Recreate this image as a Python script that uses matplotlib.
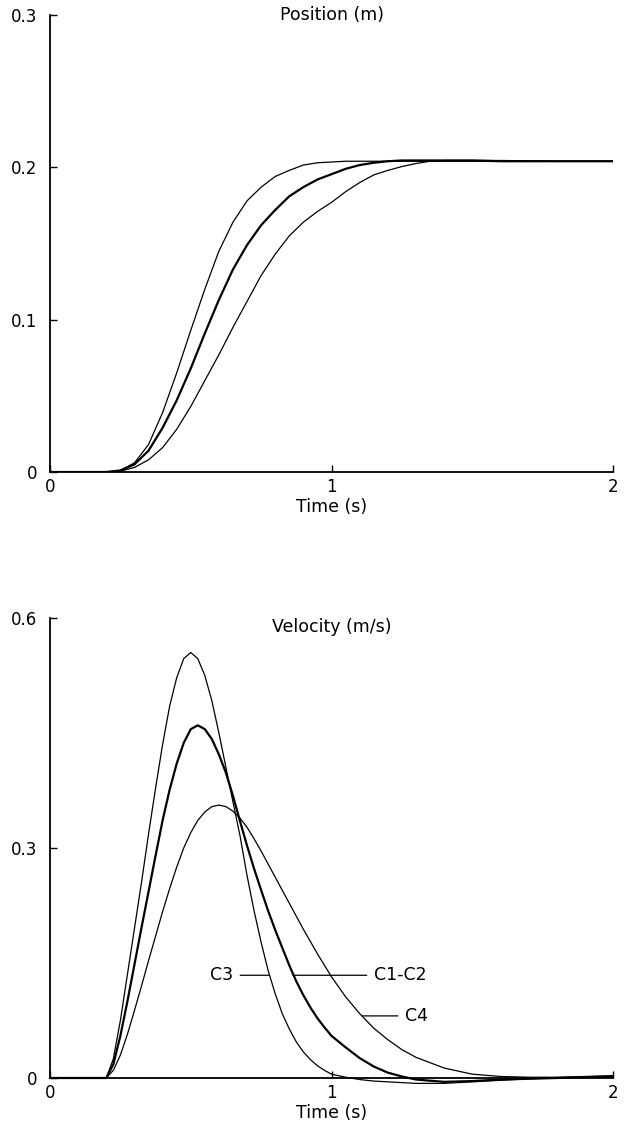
import numpy as np
import matplotlib
matplotlib.use("Agg")
import matplotlib.pyplot as plt

plt.rcParams['font.family'] = ['DejaVu Sans']

# ---- position (m) ----
t_pos = [0.0, 0.20, 0.25, 0.30, 0.35, 0.40, 0.45, 0.50, 0.55, 0.60, 0.65, 0.70,
         0.75, 0.80, 0.85, 0.90, 0.95, 1.00, 1.05, 1.10, 1.15, 1.20, 1.25, 1.30,
         1.35, 1.40, 1.50, 1.60, 1.80, 2.00]
pos_c3 = [0, 0, 0.001, 0.006, 0.018, 0.039, 0.065, 0.093, 0.120, 0.145, 0.164, 0.178,
          0.187, 0.194, 0.198, 0.2015, 0.203, 0.2035, 0.204, 0.204, 0.204, 0.204, 0.204, 0.204,
          0.204, 0.204, 0.204, 0.204, 0.204, 0.204]
pos_c12 = [0, 0, 0.001, 0.005, 0.014, 0.029, 0.047, 0.068, 0.091, 0.113, 0.133, 0.149,
           0.162, 0.172, 0.181, 0.187, 0.192, 0.1955, 0.199, 0.2015, 0.203, 0.204, 0.2045, 0.2045,
           0.2045, 0.2045, 0.2045, 0.204, 0.204, 0.204]
pos_c4 = [0, 0, 0.0005, 0.003, 0.008, 0.016, 0.028, 0.043, 0.060, 0.077, 0.095, 0.112,
          0.129, 0.143, 0.155, 0.164, 0.171, 0.177, 0.184, 0.190, 0.195, 0.198, 0.2005, 0.2025,
          0.204, 0.2045, 0.2045, 0.2045, 0.204, 0.204]

# ---- velocity (m/s) ----
t_vel = [0.0, 0.200, 0.225, 0.250, 0.275, 0.300, 0.325, 0.350, 0.375, 0.400, 0.425,
         0.450, 0.475, 0.500, 0.525, 0.550, 0.575, 0.600, 0.625, 0.650, 0.675,
         0.700, 0.725, 0.750, 0.775, 0.800, 0.825, 0.850, 0.875, 0.900, 0.925,
         0.950, 0.975, 1.000, 1.05, 1.10, 1.15, 1.20, 1.25, 1.30, 1.40, 1.50,
         1.60, 1.70, 1.80, 1.90, 2.00]
vel_c3 = [0, 0, 0.025, 0.075, 0.135, 0.195, 0.255, 0.318, 0.378, 0.435, 0.485,
          0.522, 0.547, 0.555, 0.547, 0.525, 0.492, 0.450, 0.405, 0.360, 0.316,
          0.264, 0.218, 0.177, 0.140, 0.110, 0.084, 0.064, 0.047, 0.034, 0.024,
          0.016, 0.010, 0.005, 0.001, -0.002, -0.004, -0.005, -0.006, -0.007, -0.007, -0.005,
          -0.003, -0.001, 0.000, 0.001, 0.002]
vel_c12 = [0, 0, 0.018, 0.055, 0.100, 0.148, 0.196, 0.243, 0.290, 0.336, 0.376,
           0.410, 0.437, 0.455, 0.460, 0.455, 0.442, 0.422, 0.398, 0.368, 0.335,
           0.303, 0.273, 0.245, 0.218, 0.193, 0.170, 0.147, 0.126, 0.108, 0.092,
           0.078, 0.066, 0.055, 0.040, 0.026, 0.015, 0.007, 0.002, -0.002, -0.005, -0.004,
           -0.002, -0.001, 0.000, 0.001, 0.002]
vel_c4 = [0, 0, 0.010, 0.030, 0.057, 0.088, 0.120, 0.153, 0.185, 0.217, 0.247,
          0.275, 0.300, 0.320, 0.336, 0.347, 0.354, 0.356, 0.354, 0.348, 0.339,
          0.327, 0.312, 0.296, 0.279, 0.262, 0.245, 0.228, 0.211, 0.194, 0.178,
          0.162, 0.147, 0.132, 0.106, 0.084, 0.065, 0.050, 0.037, 0.027, 0.013, 0.005,
          0.002, 0.001, 0.001, 0.002, 0.003]

# curve labels: name, point on curve, text position
lab_names = ["C3", "C1-C2", "C4"]
lab_xy = [(0.78, 0.134), (0.863, 0.134), (1.11, 0.081)]
lab_text = [(0.61, 0.134), (1.15, 0.134), (1.26, 0.081)]
lab_ha = ["center", "left", "left"]

fig = plt.figure(figsize=(6.29, 11.34), dpi=100)
W, H = 629, 1134
ax1 = fig.add_axes([50 / W, 1 - 472 / H, 563 / W, 457 / H])
ax2 = fig.add_axes([50 / W, 1 - 1078 / H, 563 / W, 460 / H])

for ax in (ax1, ax2):
    for s in ("top", "right"):
        ax.spines[s].set_visible(False)
    for s in ("left", "bottom"):
        ax.spines[s].set_linewidth(1.3)
    ax.tick_params(direction="in", length=5, width=1, labelsize=12)
    ax.tick_params(axis="y", pad=9)
    ax.tick_params(axis="x", pad=4)
    ax.set_xlim(0, 2)
    ax.set_xticks([0, 1, 2])
    ax.set_xticklabels(["0", "1", "2"])
    ax.set_xlabel("Time (s)", fontsize=12.5, labelpad=2)

ax1.plot(t_pos, pos_c3, color="black", lw=0.9)
ax1.plot(t_pos, pos_c12, color="black", lw=1.6)
ax1.plot(t_pos, pos_c4, color="black", lw=0.9)
ax1.set_ylim(0, 0.3)
ax1.set_yticks([0, 0.1, 0.2, 0.3])
ax1.set_yticklabels(["0", "0.1", "0.2", "0.3"])
ax1.text(1.0, 0.3, "Position (m)", ha="center", va="center", fontsize=12.5)

ax2.plot(t_vel, vel_c3, color="black", lw=0.9, clip_on=False)
ax2.plot(t_vel, vel_c12, color="black", lw=1.6, clip_on=False)
ax2.plot(t_vel, vel_c4, color="black", lw=0.9, clip_on=False)
ax2.set_ylim(0, 0.6)
ax2.set_yticks([0, 0.3, 0.6])
ax2.set_yticklabels(["0", "0.3", "0.6"])
ax2.text(1.0, 0.588, "Velocity (m/s)", ha="center", va="center", fontsize=12.5)

for name, xy, xt, ha in zip(lab_names, lab_xy, lab_text, lab_ha):
    ax2.annotate(name, xy=xy, xytext=xt, ha=ha, va="center", fontsize=12.5,
                 arrowprops=dict(arrowstyle="-", lw=0.9, color="black",
                                 shrinkA=3, shrinkB=0))

fig.savefig("out.png", dpi=100)
